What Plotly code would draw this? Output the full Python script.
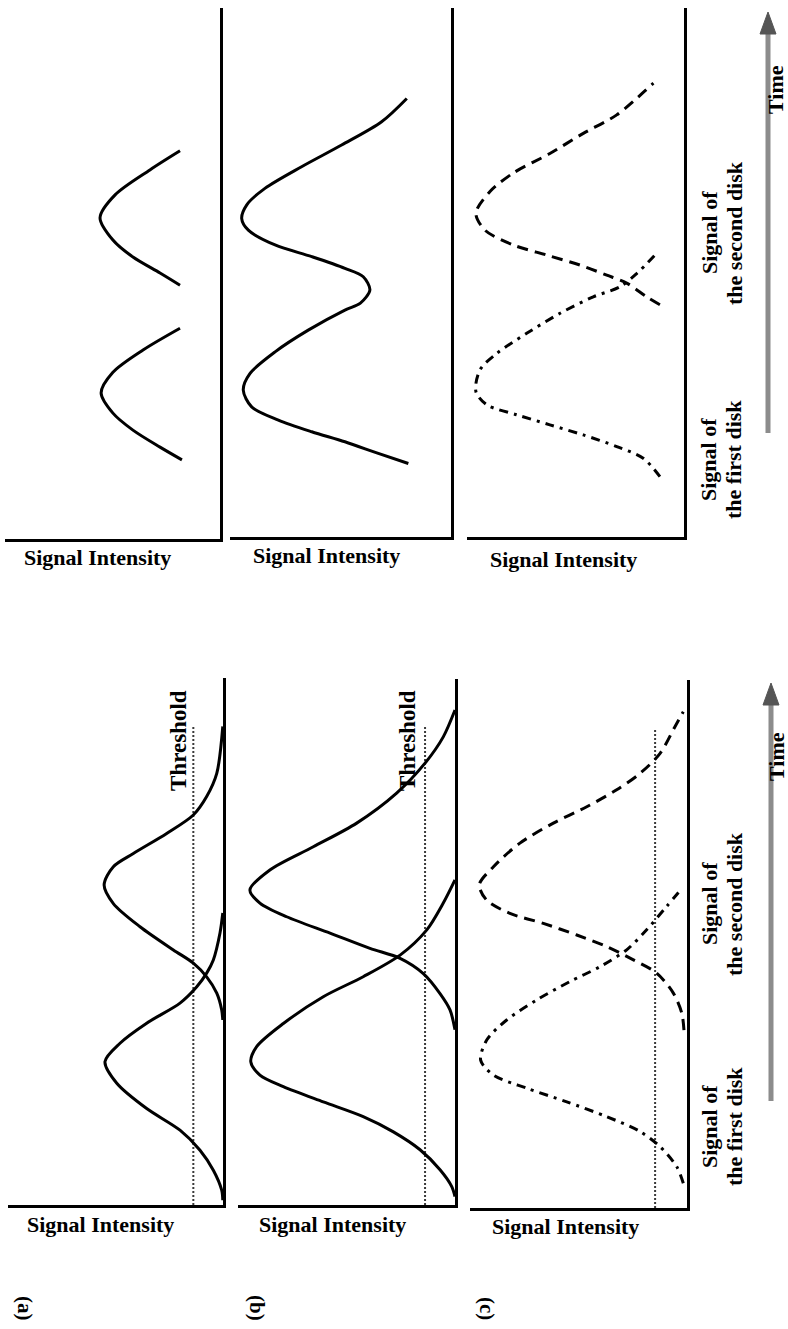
import plotly.graph_objects as go

W, H = 788, 1329

# ---------------------------------------------------------------
# Signal traces: time (t, 0-100 along each panel) vs intensity (i, 0-100)
# ---------------------------------------------------------------

# Upper row, panel a: only the parts of each pulse above threshold
up_a_first_t = [14.9, 17.3, 20.5, 23.7, 27.5, 31.4, 35.6, 39.7]
up_a_first_i = [17.7, 27.9, 40.5, 49.8, 55.3, 49.8, 35.8, 18.6]
up_a_second_t = [47.8, 50.1, 53.1, 56.3, 60.5, 64.8, 69.5, 73.1]
up_a_second_i = [18.6, 27.9, 40.5, 49.8, 55.8, 48.8, 32.6, 18.6]

# Upper row, panel b: merged signal of two wide pulses
up_b_sum_t = [13.9, 15.8, 18.0, 19.9, 22.1, 24.6, 27.8, 30.9, 35.0, 39.1, 42.9,
              44.2, 46.7, 49.2, 50.8, 53.0, 55.2, 58.0, 60.2, 62.8, 65.9, 70.0,
              74.1, 78.5, 82.9]
up_b_sum_i = [19.3, 32.9, 48.0, 63.0, 78.1, 90.2, 94.0, 91.0, 79.6, 64.6, 48.0,
              41.0, 36.7, 39.7, 48.0, 63.0, 79.6, 91.7, 94.7, 92.4, 84.2, 67.6,
              49.5, 31.4, 20.0]

# Upper row, panel c: first disk (dash-dot) and second disk (dashed)
up_c_first_t = [11.4, 14.9, 17.1, 19.3, 21.2, 23.1, 25.0, 27.5, 31.6, 34.7,
                38.5, 42.3, 45.4, 47.3, 49.8, 53.3]
up_c_first_i = [11.1, 18.8, 31.0, 46.4, 61.8, 77.1, 90.9, 95.9, 94.0, 86.3,
                72.5, 57.1, 41.8, 29.5, 21.8, 13.4]
up_c_second_t = [43.9, 45.4, 48.0, 49.5, 51.4, 53.3, 55.2, 58.0, 61.2, 65.3,
                 68.8, 72.5, 76.3, 79.8, 85.8]
up_c_second_i = [11.1, 17.2, 26.4, 35.6, 47.9, 63.3, 78.7, 91.7, 95.9, 89.4,
                 78.7, 61.8, 46.4, 31.0, 14.1]

# Lower row, panel a: two narrow pulses with a threshold
low_a_first_t = [0.9, 2.8, 6.6, 10.4, 14.2, 18.3, 23.1, 27.2, 30.7, 34.5, 38.3,
                 41.4, 44.0, 46.5, 51.6, 55.4]
low_a_first_i = [0.1, 0.6, 4.5, 10.7, 20.0, 35.5, 49.4, 54.9, 47.9, 35.5, 20.0,
                 12.2, 7.6, 4.5, 1.4, 0.1]
low_a_second_t = [35.1, 37.0, 40.2, 43.3, 45.9, 48.4, 52.8, 57.2, 60.7, 64.2,
                  66.7, 70.5, 74.0, 77.5, 81.9, 90.8]
low_a_second_i = [0.1, 0.6, 2.9, 7.6, 13.8, 23.1, 38.6, 51.0, 55.3, 51.0,
                  41.7, 26.2, 13.8, 7.6, 2.9, 0.1]

# Lower row, panel b: two wide, strongly overlapping pulses
low_b_first_t = [1.6, 3.5, 6.7, 10.5, 13.9, 16.8, 19.6, 22.5, 24.7, 27.2, 30.1,
                 34.5, 39.6, 43.4, 47.5, 52.3, 57.4, 61.8]
low_b_first_i = [0.0, 1.5, 6.9, 16.1, 28.4, 42.3, 60.7, 79.1, 89.9, 94.1, 91.4,
                 79.1, 60.7, 42.3, 25.3, 13.0, 5.4, 0.0]
low_b_second_t = [33.3, 37.1, 40.2, 44.0, 46.9, 48.8, 51.7, 54.8, 57.4, 59.9,
                  63.7, 68.1, 72.6, 78.3, 84.0, 89.0, 94.1]
low_b_second_i = [0.0, 2.3, 6.9, 14.6, 25.3, 39.2, 57.6, 77.6, 89.9, 94.5,
                  85.3, 65.3, 45.3, 26.9, 13.8, 5.4, 0.0]

# Lower row, panel c: first disk (dash-dot) and second disk (dashed)
low_c_first_t = [4.7, 7.8, 11.6, 14.5, 17.3, 20.1, 22.7, 25.2, 28.0, 31.8,
                 35.6, 39.4, 42.9, 45.7, 48.9, 52.7, 57.1, 60.5]
low_c_first_i = [1.7, 4.7, 12.4, 21.7, 37.0, 55.4, 73.9, 89.3, 95.1, 92.3,
                 83.1, 69.3, 53.9, 40.1, 27.8, 18.6, 9.4, 2.4]
low_c_second_t = [33.7, 36.9, 40.7, 44.5, 47.0, 49.5, 51.7, 53.9, 55.8, 58.3,
                  61.2, 64.6, 69.1, 72.9, 76.0, 79.2, 82.3, 86.1, 91.2, 94.0]
low_c_second_i = [1.4, 2.4, 6.3, 14.0, 24.7, 37.0, 50.8, 66.2, 81.6, 92.3,
                  95.7, 89.3, 77.0, 61.6, 46.2, 32.4, 21.7, 12.4, 5.5, 1.7]

# Threshold levels (intensity) and the time up to which each is drawn
threshold_level = {"la": 13.8, "lb": 13.8, "lc": 14.7}
threshold_top = {"la": 90.8, "lb": 90.9, "lc": 90.9}

# ---------------------------------------------------------------
# Panel frames in page pixels: left, right, top, bottom
# ---------------------------------------------------------------
panels = {
    "ua": (5, 220, 8, 539),
    "ub": (230, 451, 8, 537),
    "uc": (467, 684, 8, 537),
    "la": (8, 223, 678, 1205),
    "lb": (238, 455, 679, 1205),
    "lc": (470, 687, 680, 1208),
}
axis_ids = {name: k + 1 for k, name in enumerate(panels)}

SMOOTH = 0.85
SOLID = dict(color="black", width=3, shape="spline", smoothing=SMOOTH)
DASHED = dict(color="black", width=3, shape="spline", smoothing=SMOOTH,
              dash="11px,7px")
DASHDOT = dict(color="black", width=3, shape="spline", smoothing=SMOOTH,
               dash="9px,6px,3px,6px")
DOTTED = dict(color="#3a3a3a", width=2, dash="2px,2px")

fig = go.Figure()


def add_curve(panel, t, i, line):
    n = axis_ids[panel]
    fig.add_trace(go.Scatter(
        x=i, y=t, mode="lines", line=line,
        xaxis=f"x{n}", yaxis=f"y{n}",
        showlegend=False, hoverinfo="skip",
    ))


add_curve("ua", up_a_first_t, up_a_first_i, SOLID)
add_curve("ua", up_a_second_t, up_a_second_i, SOLID)
add_curve("ub", up_b_sum_t, up_b_sum_i, SOLID)
add_curve("uc", up_c_first_t, up_c_first_i, DASHDOT)
add_curve("uc", up_c_second_t, up_c_second_i, DASHED)

for p in ("la", "lb", "lc"):
    add_curve(p, [0, threshold_top[p]],
              [threshold_level[p], threshold_level[p]], DOTTED)

add_curve("la", low_a_first_t, low_a_first_i, SOLID)
add_curve("la", low_a_second_t, low_a_second_i, SOLID)
add_curve("lb", low_b_first_t, low_b_first_i, SOLID)
add_curve("lb", low_b_second_t, low_b_second_i, SOLID)
add_curve("lc", low_c_first_t, low_c_first_i, DASHDOT)
add_curve("lc", low_c_second_t, low_c_second_i, DASHED)

# Axes: intensity grows to the left, time grows upward; only the
# bottom (intensity) line and the right-hand (time) line are shown.
layout_axes = {}
for name, (xl, xr, yt, yb) in panels.items():
    n = axis_ids[name]
    common = dict(showline=True, linecolor="black", linewidth=2.6,
                  showticklabels=False, ticks="", showgrid=False,
                  zeroline=False, fixedrange=True)
    layout_axes[f"xaxis{n}"] = dict(domain=[xl / W, xr / W], range=[100, 0],
                                    anchor=f"y{n}", **common)
    layout_axes[f"yaxis{n}"] = dict(domain=[1 - yb / H, 1 - yt / H],
                                    range=[0, 100], anchor=f"x{n}",
                                    side="right", **common)
fig.update_layout(**layout_axes)

FONT = "Liberation Serif, Times New Roman, serif"


def px_x(x):
    return x / W


def px_y(y):
    return 1 - y / H


def label(text, x, y, size=22, angle=0):
    fig.add_annotation(
        text=f"<b>{text}</b>", x=px_x(x), y=px_y(y), xref="paper", yref="paper",
        showarrow=False, textangle=angle, xanchor="center", yanchor="middle",
        font=dict(family=FONT, size=size, color="black"),
    )


# Axis titles under each panel
for x, y in [(97, 557), (326, 555), (563, 559),
             (100, 1224), (332, 1224), (565, 1226)]:
    label("Signal Intensity", x, y)

# Panel letters
for text, x in [("(a)", 25), ("(b)", 257), ("(c)", 487)]:
    label(text, x, 1308, size=21, angle=90)

# Threshold captions
label("Threshold", 178, 741, size=23, angle=-90)
label("Threshold", 407, 741, size=23, angle=-90)

# Disk signal captions
for y0 in (460, 1127):
    label("Signal of", 709, y0, angle=-90)
    label("the first disk", 734, y0, angle=-90)
for y0 in (233, 904):
    label("Signal of", 709, y0, angle=-90)
    label("the second disk", 734, y0, angle=-90)

# Time arrows
for x0, tail, tip, t_label in [(768, 433, 12, 90), (771, 1101, 683, 757)]:
    fig.add_shape(type="line", xref="paper", yref="paper",
                  x0=px_x(x0), x1=px_x(x0), y0=px_y(tail), y1=px_y(tip + 18),
                  line=dict(color="#8c8c8c", width=5))
    fig.add_shape(type="path", xref="paper", yref="paper",
                  path=(f"M {px_x(x0 - 8)} {px_y(tip + 22)} "
                        f"L {px_x(x0 + 8)} {px_y(tip + 22)} "
                        f"L {px_x(x0)} {px_y(tip)} Z"),
                  fillcolor="#555555", line=dict(color="#555555", width=1))
    label("Time", 776, t_label, angle=-90)

fig.update_layout(
    width=W, height=H,
    margin=dict(l=0, r=0, t=0, b=0),
    paper_bgcolor="white", plot_bgcolor="white",
    showlegend=False,
)

fig.write_html("out.html")
